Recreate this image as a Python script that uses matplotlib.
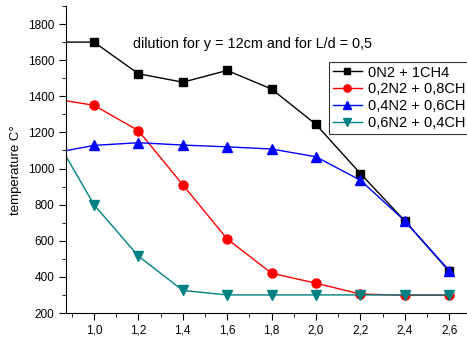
import numpy as np
import matplotlib
matplotlib.use('Agg')
import matplotlib.pyplot as plt
from matplotlib.ticker import MultipleLocator

x = [0.8, 1.0, 1.2, 1.4, 1.6, 1.8, 2.0, 2.2, 2.4, 2.6]
ch4_100 = [1700, 1700, 1525, 1478, 1543, 1440, 1244, 972, 710, 430]
n2_02 = [1390, 1350, 1210, 910, 610, 420, 365, 305, 298, 298]
n2_04 = [1082, 1128, 1143, 1130, 1120, 1108, 1065, 935, 710, 435]
n2_06 = [1225, 800, 515, 325, 300, 300, 300, 300, 300, 300]
labels = ['0N2 + 1CH4', '0,2N2 + 0,8CH', '0,4N2 + 0,6CH', '0,6N2 + 0,4CH']

plt.rcParams['font.family'] = ['Liberation Sans', 'DejaVu Sans']

fig = plt.figure(figsize=(4.67, 3.40), dpi=100)
ax = fig.add_axes([0.1413, 0.0794, 0.8587, 0.903])

ax.plot(x, ch4_100, color='black', marker='s', markersize=6, lw=1, label=labels[0])
ax.plot(x, n2_02, color='red', marker='o', markersize=6.5, lw=1, label=labels[1])
ax.plot(x, n2_04, color='blue', marker='^', markersize=7, lw=1, label=labels[2])
ax.plot(x, n2_06, color='#008080', marker='v', markersize=7, lw=1, label=labels[3])

ax.set_xlim(0.874, 2.68)
ax.set_ylim(200, 1900)
ax.xaxis.set_major_locator(MultipleLocator(0.2))
ax.xaxis.set_minor_locator(MultipleLocator(0.1))
ax.xaxis.set_major_formatter(plt.FuncFormatter(lambda v, p: ('%.1f' % v).replace('.', ',')))
ax.yaxis.set_major_locator(MultipleLocator(200))
ax.yaxis.set_minor_locator(MultipleLocator(100))
ax.tick_params(which='major', direction='out', length=5, labelsize=8.5)
ax.tick_params(which='minor', direction='out', length=3)
ax.spines['top'].set_visible(False)
ax.spines['right'].set_visible(False)

ax.set_ylabel('temperature C°', fontsize=9.5)
ax.yaxis.set_label_coords(-0.11, 0.466)
ax.text(0.466, 0.876, 'dilution for y = 12cm and for L/d = 0,5', transform=ax.transAxes,
        fontsize=10.4, ha='center', va='center')

leg = ax.legend(loc='upper left', bbox_to_anchor=(0.656, 0.818), fontsize=10.5, frameon=True,
                fancybox=False, edgecolor='black', borderpad=0.25, labelspacing=0.2,
                handlelength=2.0, handletextpad=0.4, borderaxespad=0, markerscale=0.8)
leg.get_frame().set_linewidth(0.8)

fig.savefig('out.png', dpi=100)
